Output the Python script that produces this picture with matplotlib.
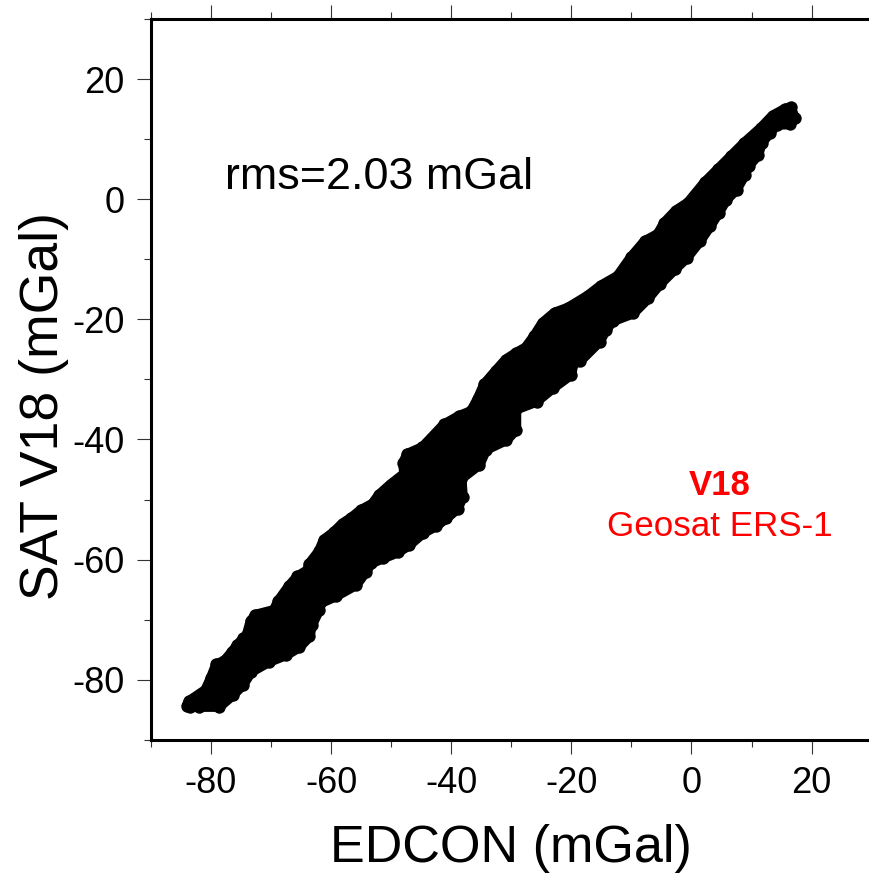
import matplotlib
matplotlib.use("Agg")
import matplotlib.pyplot as plt

plt.rcParams['font.family'] = ['Liberation Sans', 'DejaVu Sans']
plt.rcParams['axes.unicode_minus'] = False

# outer edge of the point cloud (mGal)
upper_x = [-84.0, -83.7, -80.9, -80.0, -79.1, -77.8, -76.5, -75.6, -74.6, -74.0, -73.4, -72.6,
           -69.5, -68.8, -67.0, -65.6, -63.8, -63.7, -62.0, -61.2, -59.5, -58.1, -56.7, -55.1,
           -53.1, -52.0, -50.1, -47.8, -48.0, -47.3, -44.8, -41.2, -38.7, -36.7, -35.6, -34.5,
           -32.6, -30.9, -29.2, -27.6, -26.2, -24.8, -22.8, -20.6, -17.3, -15.1, -12.3, -10.1,
           -7.8, -5.6, -4.5, -2.6, -0.6, 2.2, 4.4, 6.6, 8.8, 11.6, 13.5, 15.5, 16.5, 17.2]
upper_y = [-84.3, -83.6, -81.7, -79.7, -77.4, -76.9, -75.4, -74.2, -73.1, -72.5, -70.3, -69.2,
           -68.4, -66.9, -64.4, -62.8, -61.7, -60.8, -58.6, -56.7, -55.4, -54.0, -53.1, -51.8,
           -50.7, -49.2, -47.5, -45.7, -43.9, -42.4, -41.3, -37.5, -36.1, -35.3, -33.3, -30.8,
           -28.6, -26.7, -25.6, -24.7, -22.8, -20.6, -18.9, -18.1, -16.1, -14.4, -12.8, -9.7,
           -7.0, -5.8, -3.9, -1.9, -0.6, 2.8, 5.0, 7.2, 9.4, 11.9, 13.9, 15.0, 15.3, 13.5]
lower_x = [16.4, 14.2, 13.1, 11.7, 11.1, 9.5, 8.9, 7.5, 5.8, 4.5, 3.1, 1.4, -0.8, -2.8, -5.3,
           -7.2, -9.7, -13.1, -14.2, -15.3, -18.6, -19.7, -20.0, -23.0, -25.8, -29.2, -29.2,
           -30.8, -34.2, -35.3, -38.3, -38.1, -38.9, -40.8, -42.5, -44.7, -47.0, -48.9, -51.4,
           -53.3, -54.2, -55.8, -59.2, -61.9, -62.0, -63.2, -63.6, -65.3, -67.5, -70.3, -73.3,
           -74.7, -76.4, -78.6, -82.0, -83.5]
lower_y = [12.5, 12.4, 11.1, 9.4, 7.4, 5.5, 4.1, 1.6, -0.1, -2.3, -4.5, -7.0, -9.8, -11.7, -14.2,
           -16.5, -19.0, -20.3, -21.7, -23.7, -27.0, -27.3, -29.2, -31.4, -33.7, -35.0, -38.4,
           -40.1, -41.7, -44.2, -46.5, -49.5, -51.5, -53.1, -54.4, -55.6, -57.6, -58.8, -59.8,
           -60.6, -62.0, -64.2, -66.1, -67.3, -68.4, -70.9, -72.8, -74.6, -75.9, -77.0, -78.7,
           -80.9, -82.6, -84.5, -84.5, -84.5]

major_ticks = [-80, -60, -40, -20, 0, 20]
minor_ticks = [-90, -70, -50, -30, -10, 10, 30]

fig = plt.figure(figsize=(8.69, 8.75), dpi=100)
ax = fig.add_axes([150.9 / 869, (875 - 739.8) / 875, 720.8 / 869, 720.8 / 875])

# the cloud is solid, so the inside is filled and the edge points give the round outline
ax.fill(upper_x + lower_x, upper_y + lower_y, color='black', lw=7.4, joinstyle='round', zorder=2)
ax.scatter(upper_x + lower_x, upper_y + lower_y, s=80, color='black', linewidths=0, zorder=3)

ax.set_xlim(-90, 30)
ax.set_ylim(-90, 30)
ax.set_xticks(major_ticks)
ax.set_yticks(major_ticks)
ax.set_xticks(minor_ticks, minor=True)
ax.set_yticks(minor_ticks, minor=True)
ax.tick_params(which='major', direction='out', length=10, width=0.8, color='#333333',
               top=True, right=True, labelsize=26, pad=9)
ax.tick_params(which='minor', direction='out', length=5, width=0.8, color='#333333',
               top=True, right=True)
for side in ax.spines.values():
    side.set_linewidth(2.2)

ax.set_xlabel('EDCON (mGal)', fontsize=37.5)
ax.set_ylabel('SAT V18 (mGal)', fontsize=38.5)
ax.xaxis.set_label_coords(0.5, -0.17, transform=ax.transAxes)
ax.yaxis.set_label_coords(-0.129, 0.463, transform=ax.transAxes)
ax.xaxis.label.set_verticalalignment('baseline')
ax.yaxis.label.set_verticalalignment('baseline')

ax.text(-77.7, 1.7, 'rms=2.03 mGal', fontsize=32.3, color='black')
ax.text(4.7, -49.2, 'V18', fontsize=25, color='#ff0000', fontweight='bold', ha='center')
ax.text(4.7, -56, 'Geosat ERS-1', fontsize=25.2, color='#ff0000', ha='center')

fig.savefig('out.png', dpi=100)
